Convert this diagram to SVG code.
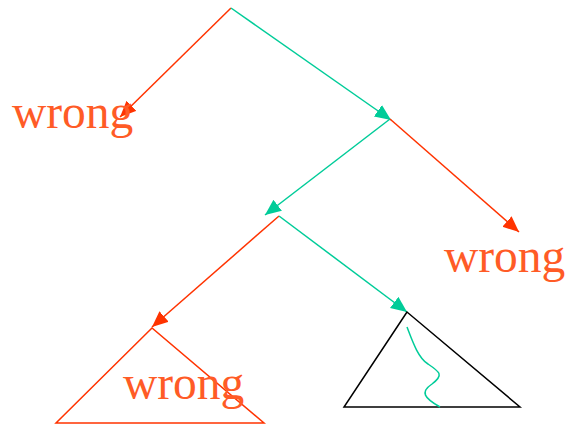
<svg xmlns="http://www.w3.org/2000/svg" width="568" height="425" viewBox="0 0 568 425">
<style>
.r{stroke:#ff3300;stroke-width:1.5;fill:none}
.g{stroke:#00cc99;stroke-width:1.5;fill:none}
.t{font-family:"Liberation Serif",serif;font-size:47.5px;fill:#ff5b26}
</style>
<defs>
<marker id="ar" markerUnits="userSpaceOnUse" markerWidth="17" markerHeight="15" refX="16" refY="7" orient="auto" viewBox="0 0 17 15"><path d="M0,0 L16,7 L0,14 Z" fill="#ff3300"/></marker>
<marker id="ag" markerUnits="userSpaceOnUse" markerWidth="17" markerHeight="15" refX="16" refY="7" orient="auto" viewBox="0 0 17 15"><path d="M0,0 L16,7 L0,14 Z" fill="#00cc99"/></marker>
</defs>
<g id="connectors">
<line class="r" x1="231" y1="8" x2="120" y2="117" marker-end="url(#ar)"/>
<line class="g" x1="231" y1="8" x2="391" y2="120" marker-end="url(#ag)"/>
<line class="g" x1="390" y1="119" x2="265" y2="215" marker-end="url(#ag)"/>
<line class="r" x1="390" y1="119" x2="519" y2="232" marker-end="url(#ar)"/>
<line class="r" x1="279" y1="216" x2="152" y2="327" marker-end="url(#ar)"/>
<line class="g" x1="279" y1="216" x2="407" y2="312" marker-end="url(#ag)"/>
</g>
<g id="leaf1"><text class="t" x="12" y="128">wrong</text></g>
<g id="leaf2"><text class="t" x="444" y="272">wrong</text></g>
<g id="leaf3">
<polygon class="r" points="152,328 56,423 264,423"/>
<text class="t" x="123" y="399">wrong</text>
</g>
<g id="leaf4">
<polygon points="407,312 344,407 520,407" fill="none" stroke="#000" stroke-width="1.5"/>
<path class="g" d="M407,327 C412,340 418,358 428,364 C440,372 444,375 432,384 C420,392 424,398 440,407"/>
</g>
</svg>
